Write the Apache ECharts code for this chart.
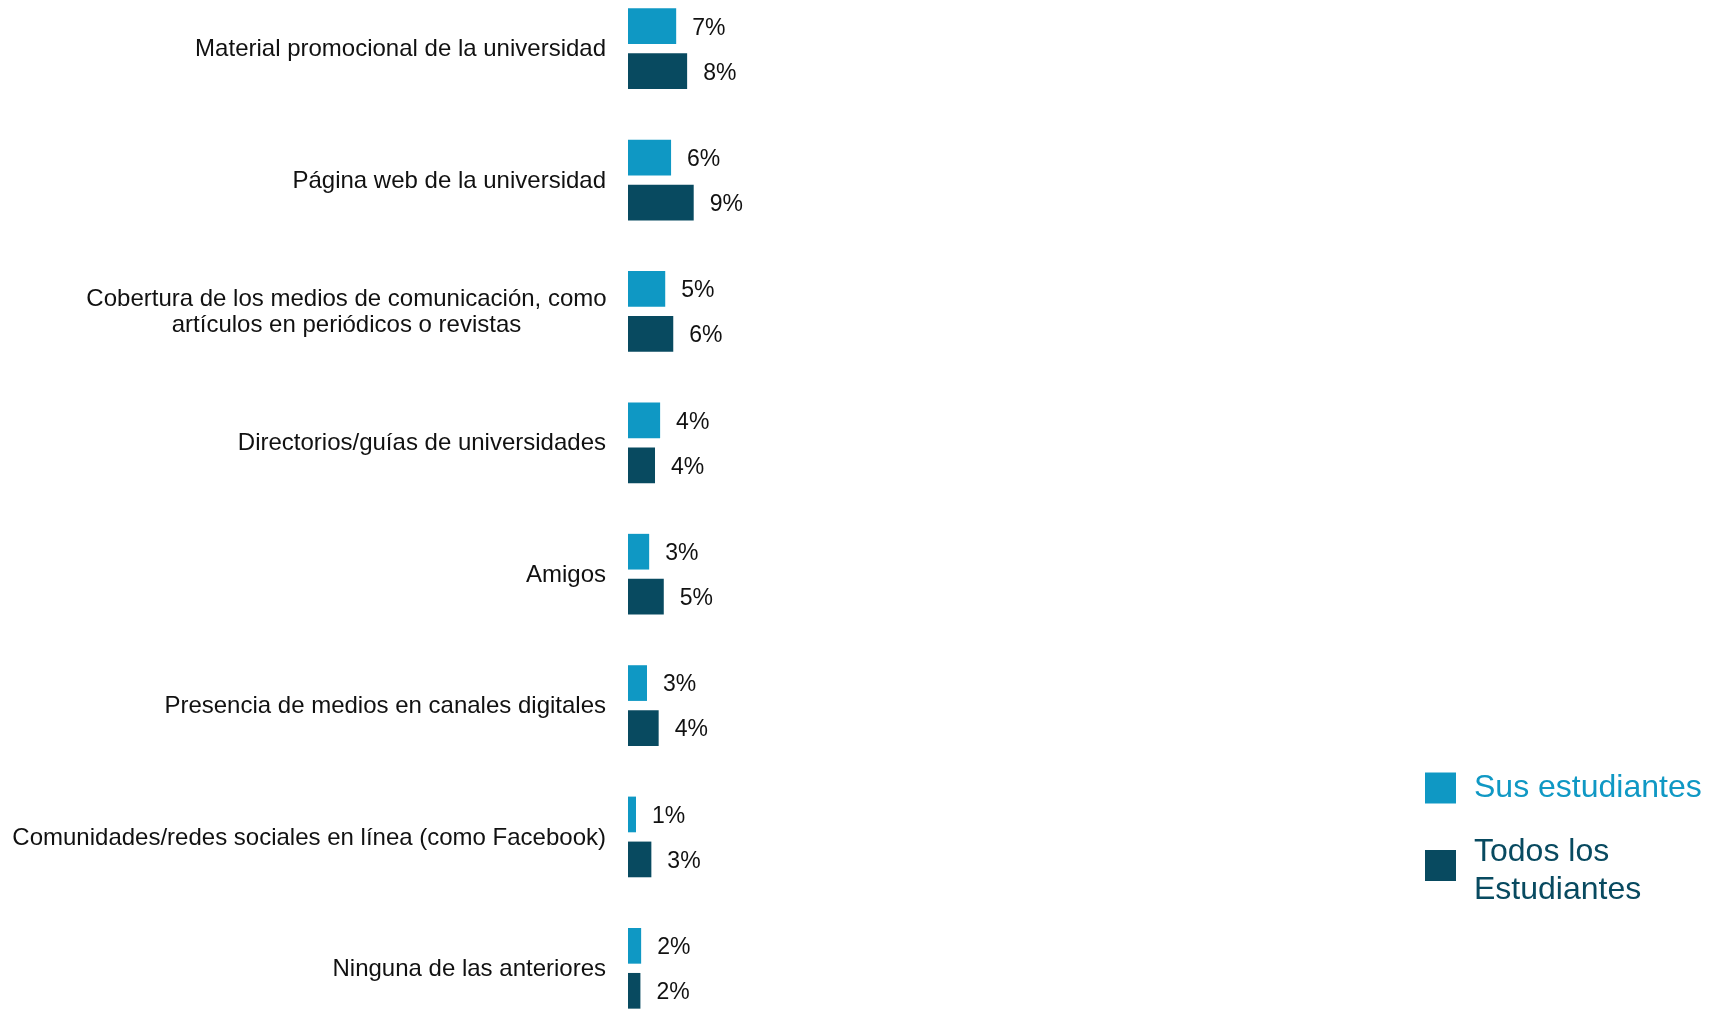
<!DOCTYPE html>
<html>
<head>
<meta charset="utf-8">
<script src="https://cdn.jsdelivr.net/npm/echarts@6/dist/echarts.min.js"></script>
<style>
html,body{margin:0;padding:0;background:#fff;overflow:hidden;}
#chart{width:1715px;height:1076px;margin-top:-17px;}
</style>
</head>
<body>
<div id="chart"></div>
<script>
const categories = [
  "Material promocional de la universidad",
  "Página web de la universidad",
  "Cobertura de los medios de comunicación, como\nartículos en periódicos o revistas",
  "Directorios/guías de universidades",
  "Amigos",
  "Presencia de medios en canales digitales",
  "Comunidades/redes sociales en línea (como Facebook)",
  "Ninguna de las anteriores"
];
const seriesNames = ["Sus estudiantes", "Todos los Estudiantes"];
const susValues = [6.6, 5.9, 5.1, 4.4, 2.9, 2.6, 1.1, 1.8];
const todosValues = [8.1, 9.0, 6.2, 3.7, 4.9, 4.2, 3.2, 1.7];

const colorSus = '#0F98C4';
const colorTodos = '#084A60';
const font = '"Liberation Sans", Arial, sans-serif';

const chart = echarts.init(document.getElementById('chart'));
const labelOpt = {
  show: true,
  position: 'right',
  distance: 16,
  offset: [0, 2],
  color: '#111',
  fontFamily: font,
  fontSize: 23,
  formatter: p => Math.round(p.value) + '%'
};
chart.setOption({
  animation: false,
  backgroundColor: '#fff',
  grid: { left: 628, width: 730, top: 0, height: 1051, containLabel: false },
  xAxis: {
    type: 'value', min: 0, max: 100, show: false
  },
  yAxis: {
    type: 'category',
    inverse: true,
    data: categories,
    axisLine: { show: false },
    axisTick: { show: false },
    splitLine: { show: false },
    axisLabel: {
      margin: 22,
      color: '#111',
      fontFamily: font,
      fontSize: 24,
      lineHeight: 26,
      padding: [2, 0, 0, 0],
      formatter: v => {
        if (v.indexOf('\n') < 0) return v;
        return v.split('\n').map(s => '{c|' + s + '}').join('\n');
      },
      rich: {
        c: { width: 519, align: 'center', fontFamily: font, fontSize: 24, lineHeight: 26, color: '#111' }
      }
    }
  },
  legend: {
    orient: 'vertical',
    left: 1420,
    top: 781,
    itemWidth: 31,
    itemHeight: 31,
    itemGap: 15,
    icon: 'rect',
    formatter: n => n === seriesNames[1] ? '{s| }\n{a|Todos los}\n{a|Estudiantes}' : n,
    textStyle: {
      fontFamily: font, fontSize: 32, lineHeight: 38, padding: [0, 0, 0, 13],
      rich: {
        s: { fontSize: 8, lineHeight: 11 },
        a: { fontFamily: font, fontSize: 32, lineHeight: 38, color: colorTodos }
      }
    },
    data: [
      { name: seriesNames[0], textStyle: { color: colorSus } },
      { name: seriesNames[1], textStyle: { color: colorTodos } }
    ]
  },
  series: [
    { name: seriesNames[0], type: 'bar', data: susValues, barWidth: 35.7, barGap: '26%',
      itemStyle: { color: colorSus }, label: labelOpt },
    { name: seriesNames[1], type: 'bar', data: todosValues, barWidth: 35.7, barGap: '26%',
      itemStyle: { color: colorTodos }, label: labelOpt }
  ]
});
</script>
</body>
</html>
